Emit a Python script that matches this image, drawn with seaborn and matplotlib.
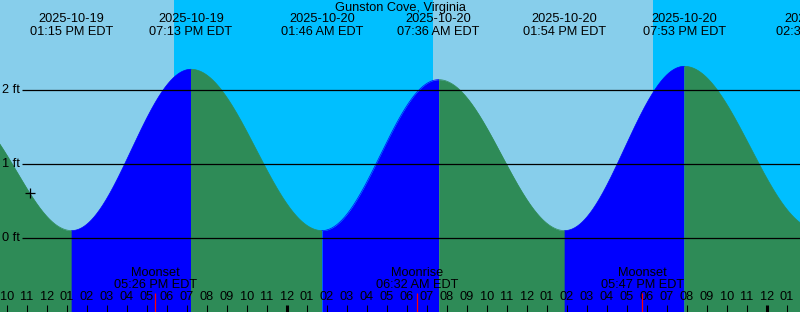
import numpy as np
import pandas as pd
import matplotlib
matplotlib.use("Agg")
import matplotlib.pyplot as plt
import seaborn as sns

# ---------------- data ----------------
title = "Gunston Cove, Virginia"
extreme_times = ["2025-10-19 07:45", "2025-10-19 13:15", "2025-10-19 19:13",
                 "2025-10-20 01:46", "2025-10-20 07:36", "2025-10-20 13:54",
                 "2025-10-20 19:53", "2025-10-21 02:31"]
extreme_heights = [1.70, 0.10, 2.28, 0.10, 2.14, 0.10, 2.32, 0.12]
extreme_labels = ["07:45 AM EDT", "01:15 PM EDT", "07:13 PM EDT", "01:46 AM EDT",
                  "07:36 AM EDT", "01:54 PM EDT", "07:53 PM EDT", "02:31 AM EDT"]

sun_times = ["2025-10-19 18:21", "2025-10-20 07:18", "2025-10-20 18:19"]
sun_events = ["Sunset", "Sunrise", "Sunset"]

moon_times = ["2025-10-19 17:26", "2025-10-20 06:32", "2025-10-20 17:47"]
moon_events = ["Moonset", "Moonrise", "Moonset"]
moon_labels = ["05:26 PM EDT", "06:32 AM EDT", "05:47 PM EDT"]

now_time = "2025-10-19 11:10"
height_ticks = [0, 1, 2]
height_tick_labels = ["0 ft", "1 ft", "2 ft"]

view_start = "2025-10-19 09:40"
view_end = "2025-10-21 01:40"

# ---------------- helpers ----------------
ref = pd.Timestamp("2025-10-19 00:00")
def hrs(s):
    return (pd.Timestamp(s) - ref) / pd.Timedelta(hours=1)

ext_t = np.array([hrs(s) for s in extreme_times])
ext_h = np.array(extreme_heights)
x0, x1 = hrs(view_start), hrs(view_end)

W, H = 800, 312
PX_PER_FT, Y0 = 74.0, 238.0
ylo, yhi = (Y0 - H) / PX_PER_FT, Y0 / PX_PER_FT
def ypix(p):
    return (Y0 - p) / PX_PER_FT
def xpix(p):
    return x0 + (x1 - x0) * p / W

def tide(t):
    t = np.atleast_1d(t)
    out = np.empty_like(t, dtype=float)
    for k in range(len(ext_t) - 1):
        m = (t >= ext_t[k]) & (t <= ext_t[k + 1])
        f = (1 - np.cos(np.pi * (t[m] - ext_t[k]) / (ext_t[k + 1] - ext_t[k]))) / 2
        out[m] = ext_h[k] + (ext_h[k + 1] - ext_h[k]) * f
    return out

LIGHT, DEEP, FLOOD, EBB = "#87CEEB", "#00BFFF", "#0000FF", "#2E8B57"

sns.set_theme(style="white")
plt.rcParams["font.family"] = ["Liberation Sans", "DejaVu Sans"]
plt.rcParams["text.color"] = "black"
FS = 9.2
TXT = dict(fontsize=FS, color="black")

fig = plt.figure(figsize=(W / 100, H / 100), dpi=100)
ax = fig.add_axes([0, 0, 1, 1])
ax.set_xlim(x0, x1)
ax.set_ylim(ylo, yhi)
ax.axis("off")

# day / night background
edges = [x0 - 1] + [hrs(s) for s in sun_times] + [x1 + 1]
state_day = sun_events[0] == "Sunset"
for a, b in zip(edges[:-1], edges[1:]):
    ax.axvspan(a, b, color=LIGHT if state_day else DEEP, lw=0, zorder=0)
    state_day = not state_day

# tide curve segments (drawn in full, clipped by the axes)
rows = []
for k in range(len(ext_t) - 1):
    a, b = ext_t[k], ext_t[k + 1]
    tt = np.linspace(a, b, 400)
    hh = tide(tt)
    rising = ext_h[k + 1] > ext_h[k]
    ax.fill_between(tt, hh, ylo - 1, color=FLOOD if rising else EBB, lw=0, zorder=1)
    rows.append(pd.DataFrame({"t": tt, "h": hh, "seg": k,
                              "phase": "flood" if rising else "ebb"}))
df = pd.concat(rows, ignore_index=True)
sns.lineplot(data=df, x="t", y="h", hue="phase", units="seg", estimator=None,
             palette={"flood": FLOOD, "ebb": EBB}, lw=0.5, legend=False, ax=ax, zorder=2)
ax.set_xlim(x0, x1)
ax.set_ylim(ylo, yhi)

# height grid lines
ax.hlines(height_ticks, xpix(22), x1, color="black", lw=0.9, zorder=3)
for v, lab in zip(height_ticks, height_tick_labels):
    ax.text(xpix(2), v, lab, ha="left", va="center", zorder=4, **TXT)

# now marker
ax.plot([hrs(now_time)], tide(hrs(now_time)), marker="+", ms=7, mew=0.9,
        color="black", zorder=4)

# top labels
ax.text((x0 + x1) / 2, ypix(7.5), title, ha="center", va="center", **TXT)
for t, lab, s in zip(ext_t, extreme_labels, extreme_times):
    if t < x0:
        continue
    ax.text(t, ypix(19.5), s[:10], ha="center", va="center", **TXT)
    ax.text(t, ypix(32), lab, ha="center", va="center", **TXT)

# hour ticks
hours = np.arange(np.ceil(x0), np.floor(x1) + 1)
for hh_ in hours:
    midnight = int(hh_) % 24 == 0
    ax.vlines(hh_, ylo, ypix(305), color="black", lw=2.2 if midnight else 0.75, zorder=5)
    h12 = int(hh_) % 12
    h12 = 12 if h12 == 0 else h12
    ax.text(hh_, ypix(297.5), f"{h12:02d}", ha="center", va="center", zorder=5, **TXT)

# moon events
for s, ev, lab in zip(moon_times, moon_events, moon_labels):
    t = hrs(s)
    ax.vlines(t, ylo, ypix(293), color="#FF0000", lw=0.9, zorder=5)
    ax.text(t, ypix(273.5), ev, ha="center", va="center", zorder=5, **TXT)
    ax.text(t, ypix(285), lab, ha="center", va="center", zorder=5, **TXT)

fig.savefig("out.png", dpi=100)
